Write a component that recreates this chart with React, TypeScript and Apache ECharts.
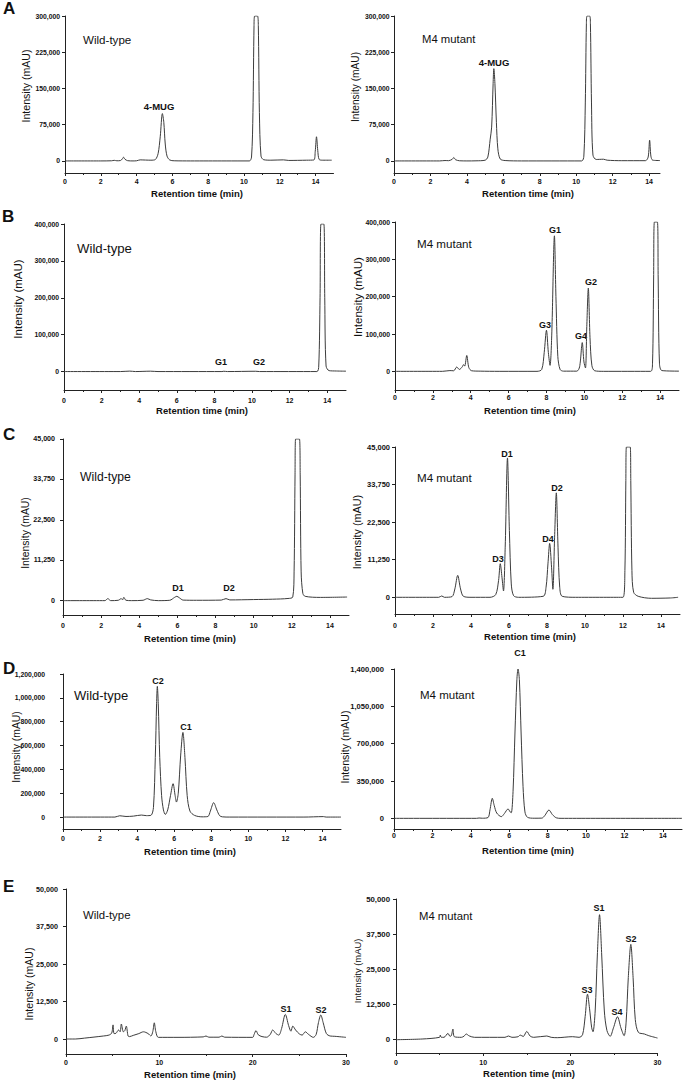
import React, { useEffect, useRef } from "react";
import * as echarts from "echarts";

type Pt = [number, number];

const FONT = "'Liberation Sans', Arial, Helvetica, sans-serif";

// ---------- tick values ----------
const xMajor15 = [0, 2, 4, 6, 8, 10, 12, 14];
const xMinor15 = [1, 3, 5, 7, 9, 11, 13];
const xMajor30 = [0, 10, 20, 30];
const xMinor30 = [5, 15, 25];

const yTicksA = [0, 75000, 150000, 225000, 300000];
const yTicksB = [0, 100000, 200000, 300000, 400000];
const yTicksC = [0, 11250, 22500, 33750, 45000];
const yTicksDWild = [0, 200000, 400000, 600000, 800000, 1000000, 1200000];
const yTicksDMut = [0, 350000, 700000, 1050000, 1400000];
const yTicksE = [0, 12500, 25000, 37500, 50000];

// ---------- texts ----------
const panelLetters = ["A", "B", "C", "D", "E"];
const sampleWild = "Wild-type";
const sampleMut = "M4 mutant";
const xTitle = "Retention time (min)";
const yTitle = "Intensity (mAU)";

// ---------- traces [retention time (min), intensity (mAU)] ----------
const aWild: Pt[] = [
  [0, 0], [2.0, 0], [2.6, 300], [2.75, 1200], [2.9, 300], [3.1, 800], [3.2, 4000], [3.27, 7700],
  [3.35, 3500], [3.5, 500], [3.8, 0], [4.0, 300], [4.2, 2200], [4.5, 1800], [4.8, 1500], [5.05, 3000],
  [5.2, 15000], [5.32, 50000], [5.44, 98000], [5.52, 80000], [5.6, 35000], [5.7, 10000], [5.85, 2000],
  [6.1, 300], [7, 0], [8, 0], [9, 0], [10.3, 0], [10.42, 8000], [10.5, 100000], [10.56, 280000],
  [10.6, 300000], [10.75, 300000], [10.8, 280000], [10.86, 100000], [10.95, 10000], [11.1, 2500],
  [11.5, 1500], [12.2, 2200], [12.5, 1000], [13.5, 1500], [13.9, 2000], [13.98, 20000], [14.05, 50000],
  [14.12, 22000], [14.2, 3000], [14.4, 1500], [14.9, 1500],
];

const aMut: Pt[] = [
  [0, 0], [2.5, 0], [2.8, 800], [3.0, 500], [3.2, 3500], [3.28, 7000], [3.38, 2500], [3.6, 300],
  [4.0, 0], [4.5, 200], [5.0, 1500], [5.15, 8000], [5.28, 45000], [5.36, 70000], [5.44, 160000],
  [5.48, 191000], [5.54, 160000], [5.62, 80000], [5.7, 25000], [5.83, 4000], [6.1, 800], [7, 0],
  [10.3, 0], [10.42, 10000], [10.5, 120000], [10.56, 285000], [10.6, 300000], [10.74, 300000],
  [10.78, 285000], [10.84, 120000], [10.92, 12000], [11.1, 3000], [11.5, 3500], [11.7, 1500],
  [12.5, 500], [13.8, 500], [13.95, 8000], [14.03, 43000], [14.1, 10000], [14.2, 1500], [14.6, 800],
];

const bWild: Pt[] = [
  [0, 0], [3, 0], [3.5, 1200], [3.8, 0], [4.6, 1000], [5, 0], [8.4, 0], [8.5, 800], [8.7, 0],
  [10.2, 800], [10.4, 0], [13.45, 0], [13.55, 15000], [13.62, 200000], [13.67, 400000],
  [13.82, 400000], [13.87, 200000], [13.94, 15000], [14.1, 2500], [14.5, 1500], [15, 1000],
];

const bMut: Pt[] = [
  [0, 0], [2.5, 0], [2.9, 2000], [3.1, 1500], [3.26, 11500], [3.4, 5000], [3.55, 12000],
  [3.62, 18000], [3.68, 14000], [3.79, 42500], [3.9, 10000], [4.05, 1500], [4.5, 500], [5.5, 0],
  [7.5, 0], [7.75, 5000], [7.88, 50000], [8.0, 110000], [8.1, 50000], [8.19, 16000], [8.28, 100000],
  [8.42, 363000], [8.5, 200000], [8.6, 40000], [8.72, 5000], [8.9, 500], [9.6, 500], [9.75, 12000],
  [9.89, 77000], [9.98, 25000], [10.06, 9000], [10.13, 120000], [10.21, 223000], [10.3, 90000],
  [10.4, 15000], [10.55, 1500], [11, 0], [13.5, 0], [13.6, 20000], [13.66, 250000], [13.7, 400000],
  [13.86, 400000], [13.9, 250000], [13.97, 20000], [14.1, 2000], [15, 500],
];

const cWild: Pt[] = [
  [0, 0], [2.2, 0], [2.35, 560], [2.5, 0], [2.9, 100], [3.06, 560], [3.12, 200], [3.19, 930],
  [3.3, 100], [3.6, 0], [4.2, 100], [4.42, 560], [4.6, 200], [5.0, 0], [5.6, 100], [5.85, 900],
  [5.97, 1200], [6.1, 800], [6.3, 150], [7, 100], [8.3, 150], [8.55, 560], [8.75, 200], [10, 300],
  [11, 400], [11.8, 600], [12.05, 1000], [12.12, 8000], [12.17, 35000], [12.2, 45000], [12.4, 45000],
  [12.44, 35000], [12.49, 8000], [12.58, 2000], [12.7, 1200], [13.5, 900], [14.9, 1000],
];

const cMut: Pt[] = [
  [0, 0], [2.3, 0], [2.46, 400], [2.6, 0], [3.0, 200], [3.15, 2500], [3.3, 6570], [3.45, 2500],
  [3.6, 300], [4, 0], [5, 0], [5.3, 800], [5.45, 5000], [5.54, 10060], [5.63, 6000], [5.71, 1900],
  [5.8, 15000], [5.92, 41730], [6.02, 20000], [6.12, 4000], [6.24, 500], [6.5, 0], [7.8, 300],
  [7.95, 3000], [8.05, 10000], [8.14, 16130], [8.24, 9000], [8.31, 2400], [8.4, 18000],
  [8.49, 31270], [8.58, 15000], [8.67, 3000], [8.8, 300], [9.5, 0], [12.0, 0], [12.1, 8000],
  [12.15, 35000], [12.18, 45000], [12.38, 45000], [12.41, 35000], [12.47, 8000], [12.56, 1500],
  [12.8, 300], [13.5, -300], [14.5, -200], [14.9, 0],
];

const dWild: Pt[] = [
  [0, 0], [2.8, 0], [3.06, 11000], [3.4, 5000], [3.8, 8000], [4.23, 17000], [4.5, 12000],
  [4.75, 15000], [4.88, 80000], [4.98, 500000], [5.05, 950000], [5.09, 1096000], [5.14, 950000],
  [5.22, 500000], [5.32, 180000], [5.42, 60000], [5.52, 22000], [5.65, 60000], [5.8, 180000],
  [5.94, 280000], [6.05, 180000], [6.12, 126000], [6.22, 200000], [6.35, 520000], [6.47, 710000],
  [6.58, 500000], [6.7, 180000], [6.85, 50000], [7.1, 14000], [7.5, 2000], [7.82, 5000],
  [7.95, 50000], [8.13, 121000], [8.3, 60000], [8.45, 12000], [8.6, 2000], [9, 0], [13, 0],
  [14.05, 4000], [14.2, 0], [15, 0],
];

const dMut: Pt[] = [
  [0, 0], [4.3, 0], [4.43, 3000], [4.6, 1000], [4.9, 8000], [5.0, 80000], [5.12, 188000],
  [5.22, 120000], [5.35, 50000], [5.59, 16000], [5.75, 45000], [5.94, 88000], [6.05, 60000],
  [6.11, 53000], [6.2, 250000], [6.3, 800000], [6.4, 1300000], [6.46, 1400000], [6.53, 1300000],
  [6.62, 800000], [6.72, 300000], [6.82, 60000], [6.95, 10000], [7.3, 1000], [7.7, 2000],
  [7.85, 25000], [8.07, 78000], [8.25, 35000], [8.45, 5000], [8.7, 0], [15, 0],
];

const eWild: Pt[] = [
  [0, 0], [1, 0], [2, 300], [4, 1000], [4.6, 1300], [4.9, 2000], [5.04, 4700], [5.15, 1800],
  [5.35, 1900], [5.64, 3000], [5.8, 2400], [5.93, 5000], [6.15, 2400], [6.3, 2800], [6.46, 4300],
  [6.65, 1000], [6.8, 800], [7.2, 1200], [7.8, 1800], [8.3, 2400], [8.8, 1800], [9.1, 1000],
  [9.3, 2500], [9.46, 5400], [9.62, 2500], [9.9, 550], [12, 550], [14.7, 700], [15.0, 1000],
  [15.3, 600], [16.4, 600], [16.7, 1000], [17, 600], [20, 550], [20.15, 1500], [20.36, 2800],
  [20.6, 1400], [21.0, 800], [21.5, 600], [21.9, 1600], [22.14, 3000], [22.5, 1800], [22.8, 1300],
  [23.1, 3500], [23.5, 8200], [23.85, 4500], [24.1, 2600], [24.3, 4300], [24.6, 3000], [25.0, 1700],
  [25.3, 1300], [25.64, 2400], [26.0, 1500], [26.5, 550], [26.8, 1500], [27.05, 5500], [27.3, 8000],
  [27.55, 5500], [27.9, 1800], [28.3, 1000], [28.8, 900], [30, 550],
];

const eMut: Pt[] = [
  [0, -250], [3, 0], [5, 600], [5.08, 1400], [5.2, 600], [5.5, 600], [5.96, 2000], [6.2, 950],
  [6.35, 1200], [6.53, 3550], [6.7, 800], [7.5, 600], [7.8, 1000], [8.06, 1780], [8.4, 1100],
  [9, 600], [12.5, 600], [12.9, 1070], [13.3, 600], [14.0, 800], [14.25, 1400], [14.6, 900],
  [15.0, 2700], [15.4, 1000], [15.8, 600], [17.3, 1070], [17.8, 600], [18.5, 470], [20.25, 830],
  [21, 600], [21.4, 1500], [21.7, 8000], [21.97, 16000], [22.2, 11000], [22.45, 4000], [22.6, 2600],
  [22.85, 10000], [23.1, 30000], [23.35, 44400], [23.6, 30000], [23.9, 10000], [24.2, 3000],
  [24.57, 950], [24.95, 4000], [25.41, 7940], [25.8, 4000], [26.17, 1180], [26.4, 6000],
  [26.65, 22000], [26.94, 33800], [27.2, 22000], [27.45, 7000], [27.8, 2400], [28.5, 1780],
  [29, 1180], [30, 350],
];

// ---------- panel layout (pixels) ----------
interface Panel {
  trace: Pt[];
  box: [number, number, number, number];
  xMax: number;
  yMin: number;
  yMax: number;
  xTicks: number[];
  xMinor: number[];
  yTicks: number[];
  yFont: number;
  yMargin: number;
  xMargin: number;
}

const panels: Panel[] = [
  { trace: aWild, box: [65, 16, 268.5, 157], xMax: 15, yMin: -25000, yMax: 300000, xTicks: xMajor15, xMinor: xMinor15, yTicks: yTicksA, yFont: 6.8, yMargin: 5, xMargin: 4.5 },
  { trace: aMut, box: [394, 16, 266, 157], xMax: 14.6, yMin: -25000, yMax: 300000, xTicks: xMajor15, xMinor: xMinor15, yTicks: yTicksA, yFont: 6.8, yMargin: 4.5, xMargin: 4.5 },
  { trace: bWild, box: [64, 224, 282, 166], xMax: 15, yMin: -50000, yMax: 400000, xTicks: xMajor15, xMinor: xMinor15, yTicks: yTicksB, yFont: 6.8, yMargin: 5, xMargin: 6.5 },
  { trace: bMut, box: [395, 222, 284, 168], xMax: 15, yMin: -50000, yMax: 400000, xTicks: xMajor15, xMinor: xMinor15, yTicks: yTicksB, yFont: 6.8, yMargin: 5, xMargin: 4 },
  { trace: cWild, box: [63, 439, 286, 176], xMax: 15, yMin: -4000, yMax: 45000, xTicks: xMajor15, xMinor: xMinor15, yTicks: yTicksC, yFont: 7.1, yMargin: 8, xMargin: 6.5 },
  { trace: cMut, box: [395, 447, 285, 167], xMax: 15, yMin: -5000, yMax: 45000, xTicks: xMajor15, xMinor: xMinor15, yTicks: yTicksC, yFont: 7.5, yMargin: 5, xMargin: 7.5 },
  { trace: dWild, box: [63, 674, 278, 155], xMax: 15, yMin: -100000, yMax: 1200000, xTicks: xMajor15, xMinor: xMinor15, yTicks: yTicksDWild, yFont: 6.8, yMargin: 18, xMargin: 6 },
  { trace: dMut, box: [394, 669, 288, 160], xMax: 15, yMin: -100000, yMax: 1400000, xTicks: xMajor15, xMinor: xMinor15, yTicks: yTicksDMut, yFont: 7.6, yMargin: 10, xMargin: 2.5 },
  { trace: eWild, box: [66, 889, 280, 165], xMax: 30, yMin: -5000, yMax: 50000, xTicks: xMajor30, xMinor: xMinor30, yTicks: yTicksE, yFont: 7.2, yMargin: 8, xMargin: 5 },
  { trace: eMut, box: [396, 899, 261.5, 154], xMax: 30, yMin: -5000, yMax: 50000, xTicks: xMajor30, xMinor: xMinor30, yTicks: yTicksE, yFont: 7.8, yMargin: 6, xMargin: 6 },
];

// text placements: [x, y, text, fontSize, bold]
const letterPos: [number, number][] = [[3, 8], [2, 216], [3, 434], [3, 668], [3, 886]];
const namePos: [number, number, number][] = [
  [83, 39, 11.6], [422, 39, 11.3], [77, 248, 13.2], [417, 243, 11.6], [80, 477, 12.2],
  [417, 477, 11.6], [74, 695, 13], [420, 695, 11.5], [83, 915, 11.4], [419, 916, 11.3],
];
const peakText: [number, number, string, number][] = [
  [159, 106, "4-MUG", 9.5], [494, 62, "4-MUG", 9.5],
  [221, 362, "G1", 9], [259, 362, "G2", 9],
  [555, 230, "G1", 9], [545, 325, "G3", 9], [581, 336, "G4", 9], [591, 282, "G2", 9],
  [178, 588, "D1", 9], [229, 588, "D2", 9],
  [507, 454, "D1", 9], [498, 559, "D3", 9], [548, 539, "D4", 9], [557, 488, "D2", 9],
  [158, 681, "C2", 9], [186, 727, "C1", 9],
  [520, 653, "C1", 9],
  [286, 1009, "S1", 9], [321, 1010, "S2", 9],
  [599, 908, "S1", 9], [631, 939, "S2", 9], [587, 990, "S3", 9], [617, 1012, "S4", 9],
];
const yTitlePos: [number, number, number][] = [
  [26, 86, 10.6], [355, 87, 10.2], [18, 299, 11.5], [357, 297, 11.6], [25, 533, 10.4],
  [357, 532, 10.8], [16, 747, 10.4], [345, 747, 10.6], [29, 984, 10.6], [357, 971, 9.4],
];
const xTitlePos: [number, number][] = [
  [197, 193], [528, 193], [202, 410], [530, 410], [190, 638], [530, 636], [190, 851], [528, 850],
  [190, 1074], [529, 1073],
];

function txt(x: number, y: number, text: string, size: number, bold: boolean, align = "center", rotation = 0) {
  return {
    type: "text",
    x,
    y,
    rotation,
    silent: true,
    style: {
      text,
      fontSize: size,
      fontWeight: bold ? "bold" : "normal",
      fontFamily: FONT,
      fill: "#111",
      align,
      verticalAlign: "middle",
      textAlign: align,
      textVerticalAlign: "middle",
    },
  };
}

function buildOption() {
  const grid: any[] = [];
  const xAxis: any[] = [];
  const yAxis: any[] = [];
  const series: any[] = [];
  const axisColor = "#222";

  panels.forEach((p, i) => {
    const [left, top, width, height] = p.box;
    grid.push({ left, top, width, height, containLabel: false, outerBoundsMode: "none" });
    xAxis.push({
      gridIndex: i,
      type: "value",
      position: "bottom",
      min: 0,
      max: p.xMax,
      axisLine: { show: true, onZero: false, lineStyle: { color: axisColor, width: 1 } },
      axisTick: { show: true, inside: false, length: 3, customValues: p.xTicks, lineStyle: { color: axisColor, width: 1 } },
      axisLabel: {
        show: true,
        customValues: p.xTicks,
        formatter: (v: number) => String(v),
        fontSize: 7,
        fontWeight: "bold",
        fontFamily: FONT,
        color: "#111",
        margin: p.xMargin,
      },
      splitLine: { show: false },
    });
    xAxis.push({
      gridIndex: i,
      type: "value",
      position: "bottom",
      min: 0,
      max: p.xMax,
      axisLine: { show: false, onZero: false },
      axisTick: { show: true, inside: false, length: 2, customValues: p.xMinor, lineStyle: { color: axisColor, width: 1 } },
      axisLabel: { show: false },
      splitLine: { show: false },
    });
    yAxis.push({
      gridIndex: i,
      type: "value",
      position: "left",
      min: p.yMin,
      max: p.yMax,
      axisLine: { show: true, onZero: false, lineStyle: { color: axisColor, width: 1 } },
      axisTick: { show: true, inside: false, length: 3, customValues: p.yTicks, lineStyle: { color: axisColor, width: 1 } },
      axisLabel: {
        show: true,
        customValues: p.yTicks,
        formatter: (v: number) => v.toLocaleString("en-US"),
        fontSize: p.yFont,
        fontWeight: "bold",
        fontFamily: FONT,
        color: "#111",
        margin: p.yMargin,
      },
      splitLine: { show: false },
    });
    series.push({
      type: "line",
      xAxisIndex: i * 2,
      yAxisIndex: i,
      data: p.trace,
      showSymbol: false,
      symbol: "none",
      smooth: 0.3,
      clip: true,
      lineStyle: { color: "#3c3c3c", width: 1 },
      silent: true,
    });
  });

  const graphic: any[] = [];
  panelLetters.forEach((l, i) => graphic.push(txt(letterPos[i][0], letterPos[i][1], l, 17, true, "left")));
  namePos.forEach((n, i) => graphic.push(txt(n[0], n[1], i % 2 === 0 ? sampleWild : sampleMut, n[2], false, "left")));
  peakText.forEach((pk) => graphic.push(txt(pk[0], pk[1], pk[2], pk[3], true)));
  yTitlePos.forEach((t) => graphic.push(txt(t[0], t[1], yTitle, t[2], false, "center", Math.PI / 2)));
  xTitlePos.forEach((t) => graphic.push(txt(t[0], t[1], xTitle, 9.5, true)));

  return {
    animation: false,
    backgroundColor: "#ffffff",
    grid,
    xAxis,
    yAxis,
    series,
    graphic: { elements: graphic },
  };
}

export default function App() {
  const ref = useRef<HTMLDivElement>(null);
  useEffect(() => {
    if (!ref.current) return;
    const chart = echarts.init(ref.current, undefined, { renderer: "svg" });
    chart.setOption(buildOption() as any);
    return () => chart.dispose();
  }, []);
  return (
    <div
      ref={ref}
      style={{ position: "absolute", left: 0, top: 0, width: 685, height: 1082, background: "#fff" }}
    />
  );
}
